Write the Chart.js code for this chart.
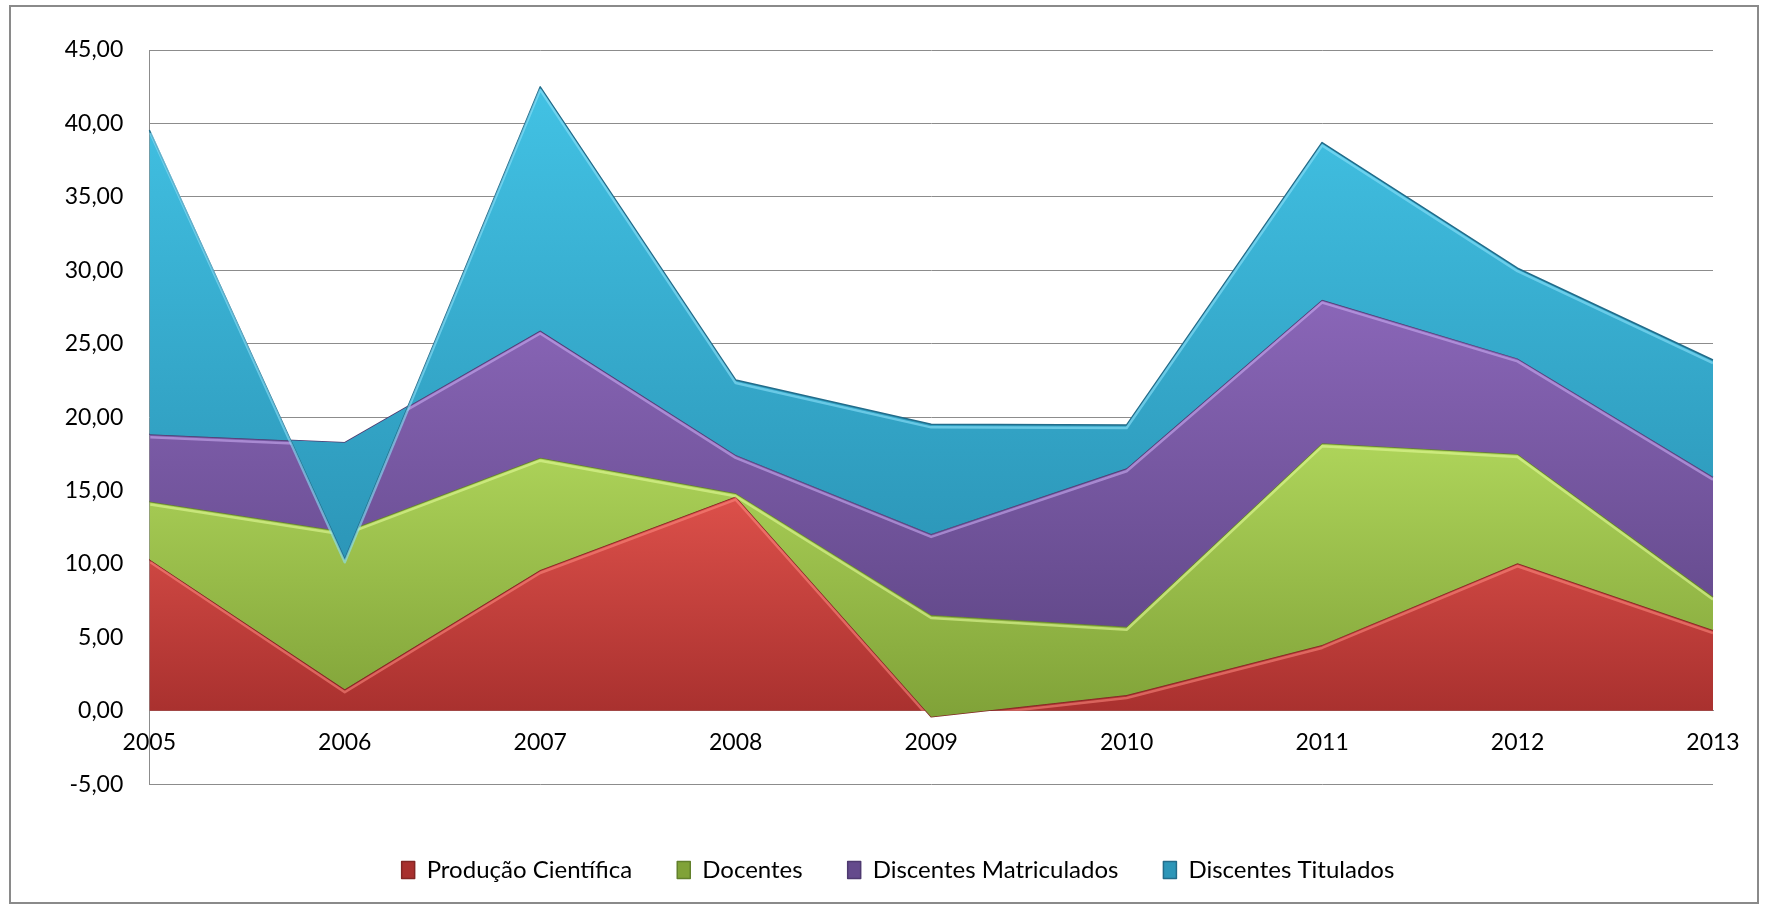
<!DOCTYPE html>
<html>
<head>
<meta charset="utf-8">
<script src="https://cdn.jsdelivr.net/npm/chart.js@4.4.1/dist/chart.umd.min.js"></script>
<style>
html,body{margin:0;padding:0;background:#fff;overflow:hidden}
#wrap{position:relative;width:1769px;height:906px}
#frame{position:absolute;left:9px;top:5px;width:1750px;height:899px;border:2px solid #8a8a8a;box-sizing:border-box;pointer-events:none}
canvas{position:absolute;left:0;top:0}
</style>
</head>
<body>
<div id="wrap"><canvas id="c" width="1769" height="906"></canvas><div id="frame"></div></div>
<script>
// ---- data ----
const categories = ['2005', '2006', '2007', '2008', '2009', '2010', '2011', '2012', '2013'];
const producaoCientifica    = [10.32, 1.47, 9.59, 14.59, -0.40, 1.08, 4.49, 10.05, 5.51];
const docentes              = [3.93, 10.73, 7.65, 0.23, 6.93, 4.65, 13.73, 7.44, 2.27];
const discentesMatriculados = [4.58, 6.06, 8.66, 2.61, 5.52, 10.79, 9.78, 6.51, 8.17];
const discentesTitulados    = [20.72, -7.94, 16.59, 5.10, 7.46, 2.95, 10.70, 6.14, 7.94];
const seriesNames = ['Produção Científica', 'Docentes', 'Discentes Matriculados', 'Discentes Titulados'];
const yMin = -5, yMax = 45, yStep = 5;

// ---- styles ----
const styles = [
  {top: 'rgb(220,80,74)',  bottom: 'rgb(168,48,46)',  line: 'rgb(130,38,36)',  hi: 'rgba(255,140,130,0.55)'},
  {top: 'rgb(174,212,90)', bottom: 'rgb(128,162,56)', line: 'rgb(98,128,44)',  hi: 'rgba(225,250,150,0.6)'},
  {top: 'rgb(138,102,184)',bottom: 'rgb(100,74,140)', line: 'rgb(78,58,112)',  hi: 'rgba(200,170,240,0.6)'},
  {top: 'rgb(66,194,228)', bottom: 'rgb(44,150,184)', line: 'rgb(34,108,138)', hi: 'rgba(140,225,250,0.6)'}
];

// Excel-style stacked area: cumulative tops (all signs summed)
const series = [producaoCientifica, docentes, discentesMatriculados, discentesTitulados];
const cumulative = [];
let running = categories.map(() => 0);
series.forEach(s => { running = running.map((v, i) => v + s[i]); cumulative.push(running); });
const zeros = categories.map(() => 0);

function gradientFor(k) {
  return (c) => {
    const ch = c.chart, ys = ch.scales && ch.scales.y;
    if (!ch.chartArea || !ys) return styles[k].bottom;
    const upper = cumulative[k];
    const lower = k > 0 ? cumulative[k - 1] : zeros;
    const t = ys.getPixelForValue(Math.max(...upper, ...lower));
    const b = ys.getPixelForValue(Math.min(...upper, ...lower));
    const g = ch.ctx.createLinearGradient(0, t, 0, b);
    g.addColorStop(0, styles[k].top);
    g.addColorStop(1, styles[k].bottom);
    return g;
  };
}

// datasets listed top layer first so the library paints them in Excel's order
const datasets = [];
for (let k = series.length - 1; k >= 0; k--) {
  datasets.push({
    label: seriesNames[k],
    data: cumulative[k],
    fill: k === 0 ? 'origin' : '+1',
    backgroundColor: gradientFor(k),
    borderColor: styles[k].line,
    borderWidth: 1.5,
    borderJoinStyle: 'round',
    pointRadius: 0,
    pointHoverRadius: 0,
    tension: 0,
    styleIndex: k
  });
}

const fmt = v => Number(v).toFixed(2).replace('.', ',');

// soft bevel highlight just under each area's top edge
const bevel = {
  id: 'bevel',
  afterDatasetDraw(chart, args) {
    const meta = args.meta;
    const k = chart.data.datasets[args.index].styleIndex;
    const pts = meta.data;
    const ctx = chart.ctx;
    const area = chart.chartArea;
    const bottom = k === 0 ? chart.scales.y.getPixelForValue(0) : area.bottom;
    ctx.save();
    ctx.beginPath();
    ctx.rect(area.left, area.top, area.width, bottom - area.top);
    ctx.clip();
    ctx.strokeStyle = styles[k].hi;
    ctx.lineWidth = 2.5;
    ctx.lineJoin = 'round';
    ctx.beginPath();
    pts.forEach((p, i) => { const x = p.x + (i === 0 ? 1 : 0), y = p.y + 3; i ? ctx.lineTo(x, y) : ctx.moveTo(x, y); });
    ctx.stroke();
    ctx.restore();
  }
};

// center the legend where the original sits
const legendShift = {
  id: 'legendShift',
  afterLayout(chart) {
    const l = chart.legend;
    if (!l) return;
    l.left += 36.5; l.right += 36.5;
  }
};

new Chart(document.getElementById('c'), {
  type: 'line',
  data: {labels: categories, datasets},
  plugins: [bevel, legendShift],
  options: {
    responsive: false,
    devicePixelRatio: 1,
    animation: false,
    layout: {padding: {left: 10, right: 56, top: 50, bottom: 14}},
    plugins: {
      tooltip: {enabled: false},
      legend: {
        position: 'bottom',
        reverse: true,
        title: {display: true, text: '', padding: {top: 18.7, bottom: 0}, font: {size: 10, lineHeight: 1}},
        labels: {
          font: {family: 'Lato', size: 24},
          color: '#000',
          boxWidth: 13,
          boxHeight: 17,
          padding: 45
        }
      }
    },
    scales: {
      x: {
        position: {y: 0},
        offset: false,
        afterFit: s => { s.height = 0; },
        grid: {display: false, drawTicks: false},
        border: {display: true, color: '#8c8c8c', width: 1},
        ticks: {font: {family: 'Lato', size: 23}, color: '#000', padding: 18, maxRotation: 0, autoSkip: false}
      },
      y: {
        min: yMin, max: yMax,
        afterFit: s => { s.width = 139.3; },
        grid: {color: '#8c8c8c', lineWidth: 1, drawTicks: false},
        border: {display: true, color: '#8c8c8c', width: 1},
        ticks: {stepSize: yStep, font: {family: 'Lato', size: 23}, color: '#000', padding: 26, callback: fmt}
      }
    }
  }
});
</script>
</body>
</html>
